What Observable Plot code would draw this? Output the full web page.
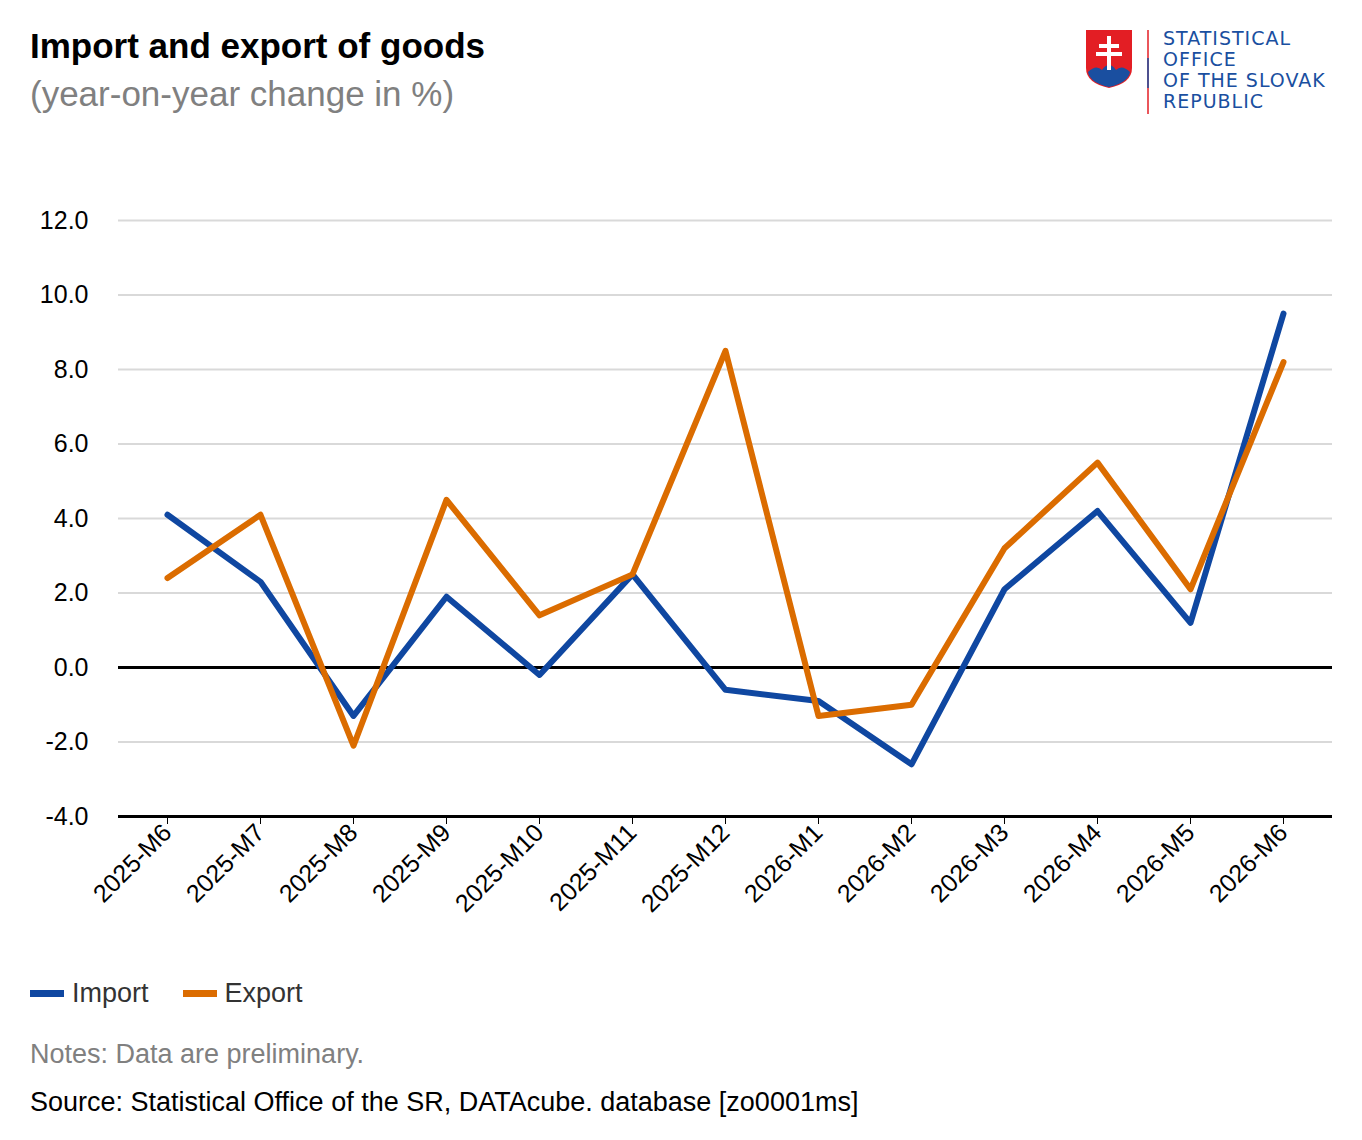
<!DOCTYPE html>
<html><head><meta charset="utf-8">
<script src="https://cdn.jsdelivr.net/npm/d3@7"></script>
<script src="https://cdn.jsdelivr.net/npm/@observablehq/plot@0.6"></script>
<style>
body{margin:0;background:#fff;font-family:"Liberation Sans",Arial,sans-serif;width:1362px;height:1140px;position:relative;overflow:hidden}
.t{position:absolute;left:30px;top:26px;font-size:35px;font-weight:bold;color:#000}
.s{position:absolute;left:30px;top:74px;font-size:35px;color:#808080}
#chart{position:absolute;left:0;top:190px}
.leg{position:absolute;left:30px;top:978px;font-size:27px;color:#333;display:flex;gap:34px}
.leg span{display:flex;align-items:center;gap:8px}
.leg i{display:inline-block;width:34px;height:7px}
.n{position:absolute;left:30px;top:1039px;font-size:27px;color:#808080}
.src{position:absolute;left:30px;top:1087px;font-size:27px;color:#000}
.logo{position:absolute;left:1084px;top:28px}
</style></head><body>
<div class="t">Import and export of goods</div>
<div class="s">(year-on-year change in %)</div>
<div class="logo">
<svg width="260" height="90">
<path d="M2 2 H48 V40 Q48 55 25 60 Q2 55 2 40 Z" fill="#e31e24"/>
<path d="M4 44 Q12 36 18 42 Q25 32 32 42 Q38 36 46 44 Q44 55 25 59 Q6 55 4 44 Z" fill="#1a4fa0"/>
<rect x="23" y="8" width="4" height="34" fill="#fff"/>
<rect x="15" y="16" width="20" height="4" fill="#fff"/>
<rect x="12" y="24" width="26" height="4" fill="#fff"/>
<line x1="64" y1="2" x2="64" y2="86" stroke="#e31e24" stroke-width="1.5"/>
<line x1="64" y1="30" x2="64" y2="60" stroke="#1a4fa0" stroke-width="1.5"/>
<g font-family="DejaVu Sans" font-size="19" fill="#1a4fa0" letter-spacing="1">
<text x="79" y="17">STATISTICAL</text><text x="79" y="38">OFFICE</text>
<text x="79" y="59">OF THE SLOVAK</text><text x="79" y="80">REPUBLIC</text></g>
</svg></div>
<div id="chart"></div>
<div class="leg"><span><i style="background:#0f47a1"></i>Import</span><span><i style="background:#db6c00"></i>Export</span></div>
<div class="n">Notes: Data are preliminary.</div>
<div class="src">Source: Statistical Office of the SR, DATAcube. database [zo0001ms]</div>
<script>
const months=["2025-M6","2025-M7","2025-M8","2025-M9","2025-M10","2025-M11","2025-M12","2026-M1","2026-M2","2026-M3","2026-M4","2026-M5","2026-M6"];
const importVals=[4.1,2.3,-1.3,1.9,-0.2,2.5,-0.6,-0.9,-2.6,2.1,4.2,1.2,9.5];
const exportVals=[2.4,4.1,-2.1,4.5,1.4,2.5,8.5,-1.3,-1.0,3.2,5.5,2.1,8.2];
const yTicks=[-4,-2,0,2,4,6,8,10,12];
const data=[...months.map((m,i)=>({m,v:importVals[i],s:"Import"})),...months.map((m,i)=>({m,v:exportVals[i],s:"Export"}))];
const p=Plot.plot({
 width:1362,height:770,marginLeft:118,marginRight:30,marginTop:30,marginBottom:144,
 style:{fontFamily:"Liberation Sans, Arial, sans-serif",fontSize:"25px",color:"#000"},
 x:{type:"point",domain:months,padding:0.5,label:null},
 y:{domain:[-4,12],label:null},
 color:{domain:["Import","Export"],range:["#0f47a1","#db6c00"]},
 marks:[
  Plot.gridY(yTicks,{stroke:"#d9d9d9",strokeOpacity:1,strokeWidth:2}),
  Plot.ruleY([0],{stroke:"#000",strokeWidth:3}),
  Plot.ruleY([-4],{stroke:"#000",strokeWidth:3}),
  Plot.line(data,{x:"m",y:"v",stroke:"s",strokeWidth:6}),
  Plot.axisY({ticks:yTicks,tickFormat:d=>d.toFixed(1),tickSize:0,tickPadding:30,fontSize:25}),
  Plot.axisX({tickRotate:-45,tickSize:8,fontSize:25,tickPadding:4})
 ]});
document.getElementById("chart").appendChild(p);
</script></body></html>
